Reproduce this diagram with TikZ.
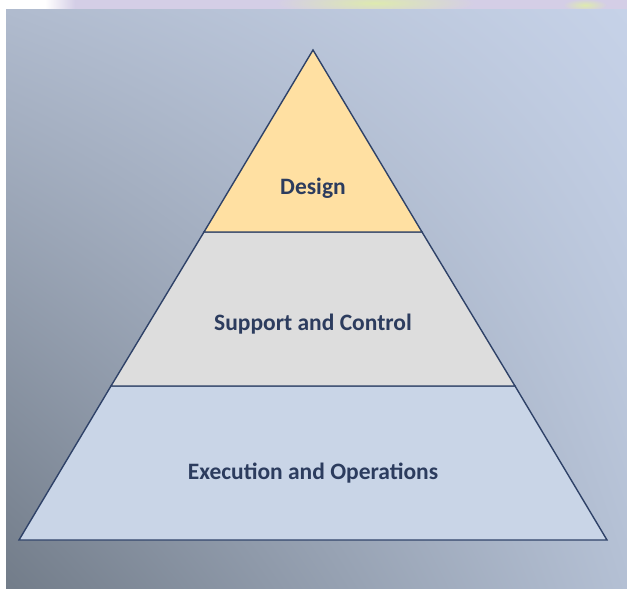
\documentclass[tikz,border=0pt]{standalone}
\usepackage{fontspec}
\setmainfont{Carlito}
\usetikzlibrary{shadings}
\begin{document}
\begin{tikzpicture}[x=1pt,y=-1pt,
  layerline/.style={draw=linecol, line width=1.4pt, line join=miter},
  layertext/.style={font=\fontsize{23.5}{28}\selectfont\bfseries, text=textcol}]
\definecolor{linecol}{RGB}{47,66,104}
\definecolor{textcol}{RGB}{44,60,94}
\definecolor{designfill}{RGB}{255,224,162}
\definecolor{supportfill}{RGB}{221,221,221}
\definecolor{execfill}{RGB}{201,213,231}
\definecolor{bgul}{RGB}{176,187,206}
\definecolor{bgur}{RGB}{198,210,232}
\definecolor{bgll}{RGB}{114,124,137}
\definecolor{bglr}{RGB}{180,192,212}
\definecolor{stripcol}{RGB}{212,206,230}
\definecolor{blobcol}{RGB}{222,234,175}
\useasboundingbox (0,0) rectangle (627,589);
% top strip (cropped screenshot edge)
\fill[white] (0,0) rectangle (627,9);
\shade[left color=white, right color=stripcol] (45,0) rectangle (75,9);
\fill[stripcol] (75,0) rectangle (627,9);
\begin{scope}
  \clip (0,0) rectangle (627,9);
  \shade[inner color=blobcol, outer color=stripcol] (375,3) ellipse (100 and 12);
  \shade[inner color=blobcol, outer color=stripcol] (585,5) ellipse (22 and 6);
\end{scope}
% background
\shade[upper left=bgul, upper right=bgur, lower left=bgll, lower right=bglr]
  (6,9) rectangle (627,589);
% pyramid coordinates
\coordinate (apex) at (313,50);
\coordinate (d1) at (204,232);
\coordinate (d2) at (422,232);
\coordinate (s1) at (111,386);
\coordinate (s2) at (515,386);
\coordinate (e1) at (19,540);
\coordinate (e2) at (607,540);
% layers
\path[layerline, fill=execfill] (s1) -- (s2) -- (e2) -- (e1) -- cycle;
\path[layerline, fill=supportfill] (d1) -- (d2) -- (s2) -- (s1) -- cycle;
\path[layerline, fill=designfill] (apex) -- (d2) -- (d1) -- cycle;
% labels
\node[layertext] (design) at (313,188) {Design};
\node[layertext] (support) at (313,324) {Support and Control};
\node[layertext] (exec) at (313,473) {Execution and Operations};
\end{tikzpicture}
\end{document}
